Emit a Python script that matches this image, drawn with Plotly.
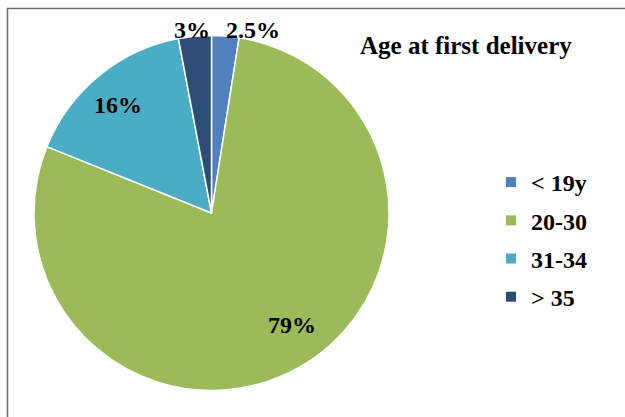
import plotly.graph_objects as go

# ---- data ----
categories = ["< 19y", "20-30", "31-34", "> 35"]
values = [2.5, 79, 16, 3]
value_labels = ["2.5%", "79%", "16%", "3%"]
title_text = "Age at first delivery"

# ---- style ----
colors = ["#4F81BD", "#9BBB59", "#4BACC6", "#2C4D75"]
W, H = 625, 417
FONT = "Liberation Serif, Times New Roman, serif"
cx, cy, r = 211.5, 213, 177.5
# label pixel positions (x, y) in the picture
label_pos = [(253, 30), (292, 325), (118, 105), (192, 30)]


def px(x):
    return x / W


def py(y):
    return 1 - y / H


fig = go.Figure()
fig.add_trace(go.Pie(
    labels=categories,
    values=values,
    sort=False,
    direction="clockwise",
    rotation=0,
    marker=dict(colors=colors, line=dict(color="white", width=1.5)),
    textinfo="none",
    hoverinfo="label+percent",
    showlegend=False,
    domain=dict(x=[px(cx - r), px(cx + r)], y=[py(cy + r), py(cy - r)]),
))

# legend entries
for i, (cat, col) in enumerate(zip(categories, colors)):
    fig.add_trace(go.Scatter(
        x=[None], y=[None], mode="markers", name=cat,
        marker=dict(symbol="square", size=10, color=col),
        legendgroup=f"g{i}", showlegend=True,
    ))

annotations = []
for (x, y), t in zip(label_pos, value_labels):
    annotations.append(dict(
        x=px(x), y=py(y), xref="paper", yref="paper", text="<b>" + t + "</b>",
        showarrow=False, xanchor="center", yanchor="middle",
        font=dict(family=FONT, size=24, color="black"),
    ))
annotations.append(dict(
    x=px(466), y=py(46), xref="paper", yref="paper", text="<b>" + title_text + "</b>",
    showarrow=False, xanchor="center", yanchor="middle",
    font=dict(family=FONT, size=25, color="black"),
))

fig.update_layout(
    width=W, height=H,
    margin=dict(l=0, r=0, t=0, b=0),
    paper_bgcolor="white", plot_bgcolor="white",
    xaxis=dict(visible=False), yaxis=dict(visible=False),
    legend=dict(
        x=px(491), y=py(160), xanchor="left", yanchor="top",
        font=dict(family=FONT, size=24, color="black", weight="bold"),
        tracegroupgap=4, bgcolor="rgba(0,0,0,0)",
    ),
    annotations=annotations,
    shapes=[dict(
        type="rect", xref="paper", yref="paper",
        x0=px(7.5), y0=-0.05, x1=1.05, y1=py(8.5),
        line=dict(color="#6e6e6e", width=1.5), fillcolor="rgba(0,0,0,0)",
        layer="below",
    )],
)

fig.write_html("out.html")
